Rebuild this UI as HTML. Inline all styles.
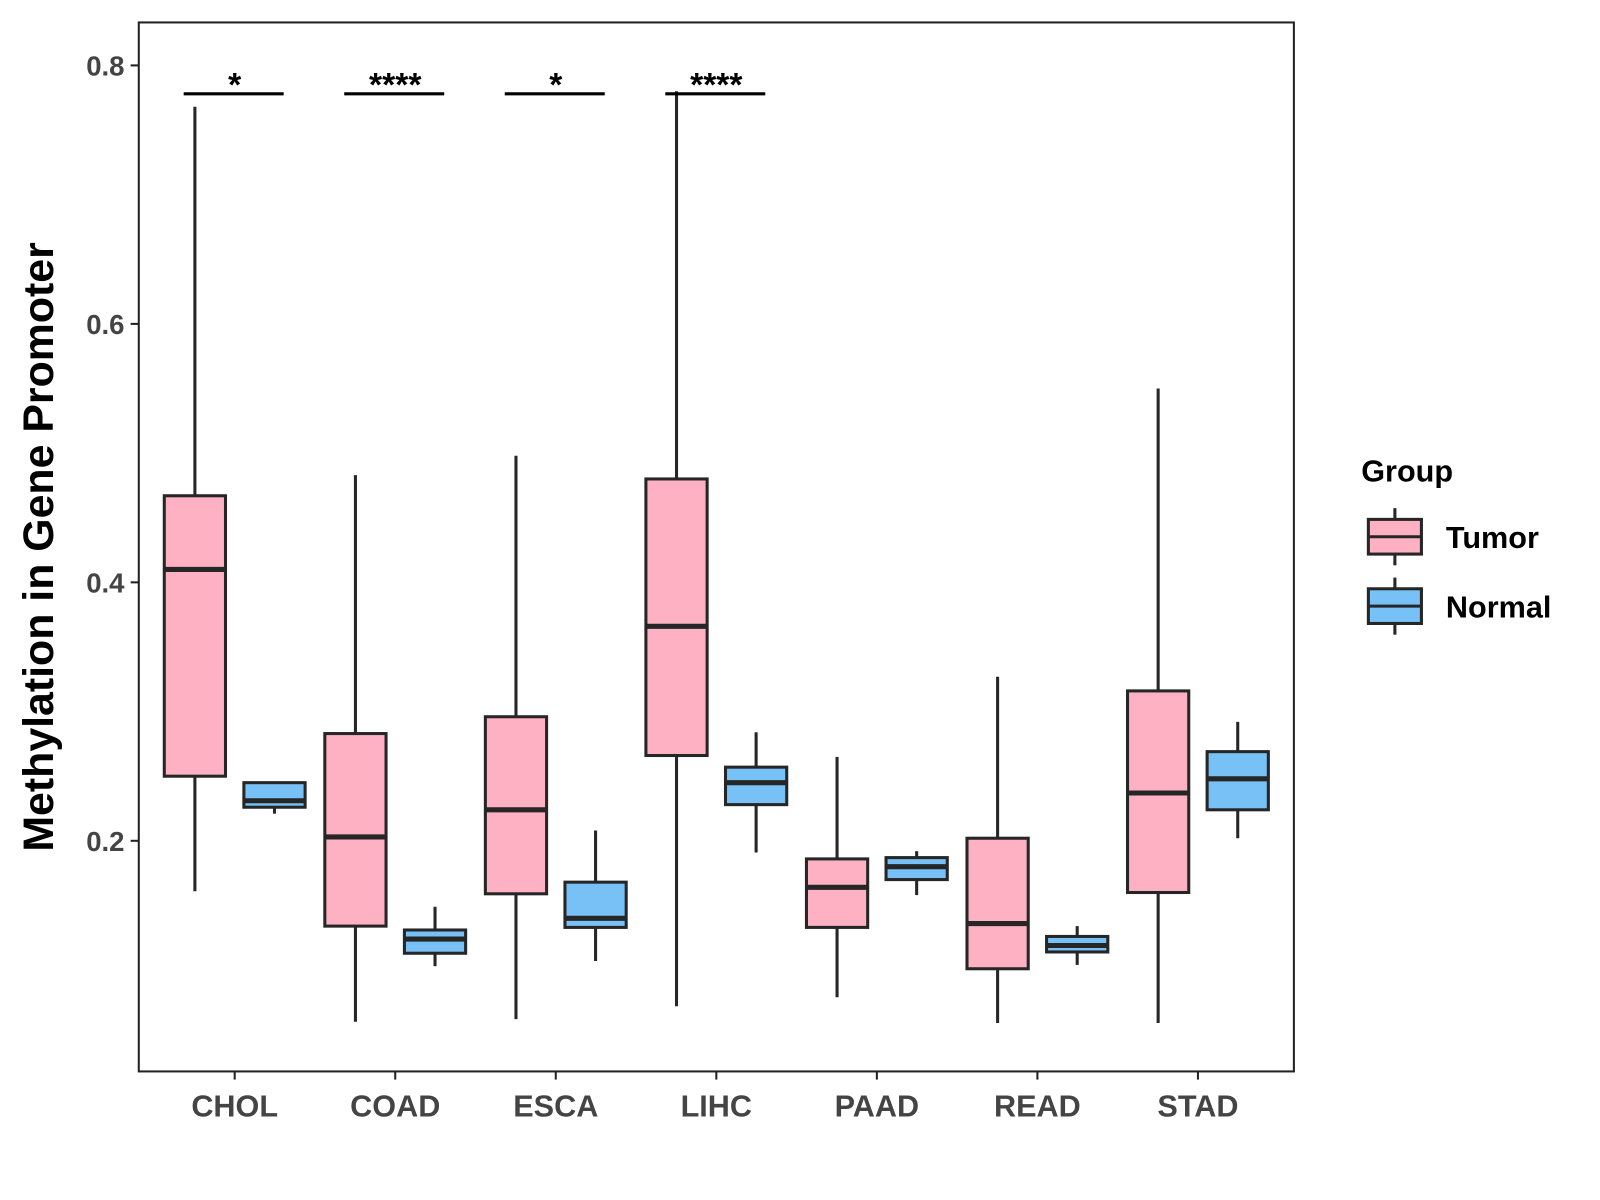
<!DOCTYPE html>
<html><head><meta charset="utf-8"><style>
html,body{margin:0;padding:0;background:#fff;}
svg{display:block;font-family:"Liberation Sans",Arial,sans-serif;}
</style></head><body>
<svg id="chart" width="1600" height="1200" viewBox="0 0 1568 1176">
<rect x="0" y="0" width="1568" height="1176" fill="#fff"/>
<rect x="136" y="22" width="1132" height="1028" fill="none" stroke="#222" stroke-width="2"/>
<g id="marks"></g>
<text transform="translate(52,536) rotate(-90)" text-anchor="middle" font-size="42" font-weight="bold" fill="#000">Methylation in Gene Promoter</text>
<g>
<text x="1334" y="472" font-size="30" font-weight="bold" fill="#000">Group</text>
<g>
<line x1="1367" y1="498" x2="1367" y2="554" stroke="#262626" stroke-width="3"/>
<rect x="1341" y="509" width="52" height="34" fill="#FDB1C2" stroke="#262626" stroke-width="3"/>
<line x1="1341" y1="526" x2="1393" y2="526" stroke="#262626" stroke-width="3"/>
<text x="1417" y="537" font-size="30" font-weight="bold" fill="#000">Tumor</text>
</g>
<g>
<line x1="1367" y1="566" x2="1367" y2="622" stroke="#262626" stroke-width="3"/>
<rect x="1341" y="577" width="52" height="34" fill="#77C1F6" stroke="#262626" stroke-width="3"/>
<line x1="1341" y1="594" x2="1393" y2="594" stroke="#262626" stroke-width="3"/>
<text x="1417" y="605" font-size="30" font-weight="bold" fill="#000">Normal</text>
</g>
</g>
</svg>
<script>
const categories = ["CHOL","COAD","ESCA","LIHC","PAAD","READ","STAD"];
// [low, q1, median, q3, high]
const tumorStats = [
 [0.161,0.250,0.410,0.467,0.768],
 [0.060,0.134,0.203,0.283,0.483],
 [0.062,0.159,0.224,0.296,0.498],
 [0.072,0.266,0.366,0.480,0.780],
 [0.079,0.133,0.164,0.186,0.265],
 [0.059,0.101,0.136,0.202,0.327],
 [0.059,0.160,0.237,0.316,0.550]
];
const normalStats = [
 [0.221,0.226,0.231,0.245,0.245],
 [0.103,0.113,0.124,0.131,0.149],
 [0.107,0.133,0.140,0.168,0.208],
 [0.191,0.228,0.245,0.257,0.284],
 [0.158,0.170,0.180,0.187,0.192],
 [0.104,0.114,0.119,0.126,0.134],
 [0.202,0.224,0.248,0.269,0.292]
];
const yTicks = [0.2,0.4,0.6,0.8];
const yTickLabels = ["0.2","0.4","0.6","0.8"];
const sigLabels = ["*","****","*","****",null,null,null];
const sigLevel = 0.778;

const NS="http://www.w3.org/2000/svg";
const g=document.getElementById('marks');
function y(v){return 824-(v-0.2)*1266.5;}
function x(i){return 230+i*157.33;}
function mk(tag,attrs,parent){const e=document.createElementNS(NS,tag);for(const k in attrs)e.setAttribute(k,attrs[k]);(parent||g).appendChild(e);return e;}

yTicks.forEach((t,i)=>{
 const tk=mk('line',{x1:128,x2:136,y1:y(t),y2:y(t),stroke:'#222','stroke-width':2});
 
 
 const tx=mk('text',{x:122,y:y(t)+10,'text-anchor':'end','font-size':27,'font-weight':'bold',fill:'#444'});
 tx.textContent=yTickLabels[i];
 
 
});
categories.forEach((c,i)=>{
 const tk=mk('line',{x1:x(i),x2:x(i),y1:1050,y2:1058,stroke:'#222','stroke-width':2});
 
 
 const tx=mk('text',{x:x(i),y:1094,'text-anchor':'middle','font-size':30,'font-weight':'bold',fill:'#444'});
 tx.textContent=c;
 
 
});
function box(cx,s,fill,name){
 const grp=mk('g',{});
 
 
 mk('line',{x1:cx,x2:cx,y1:y(s[0]),y2:y(s[4]),stroke:'#262626','stroke-width':3},grp);
 mk('rect',{x:cx-30,y:y(s[3]),width:60,height:Math.max(1,y(s[1])-y(s[3])),fill:fill,stroke:'#262626','stroke-width':3},grp);
 mk('line',{x1:cx-30,x2:cx+30,y1:y(s[2]),y2:y(s[2]),stroke:'#262626','stroke-width':5},grp);
}
categories.forEach((c,i)=>{
 box(x(i)-39,tumorStats[i],'#FDB1C2','box-tumor-'+c.toLowerCase());
 box(x(i)+39,normalStats[i],'#77C1F6','box-normal-'+c.toLowerCase());
 if(sigLabels[i]){
  const l=mk('line',{x1:x(i)-50,x2:x(i)+48,y1:y(sigLevel),y2:y(sigLevel),stroke:'#000','stroke-width':3});
  
  
  const t=mk('text',{x:x(i),y:y(sigLevel)+2,'text-anchor':'middle','font-size':33,'font-weight':'bold',fill:'#000'});
  t.textContent=sigLabels[i];
  
  
 }
});
</script>
</body></html>
